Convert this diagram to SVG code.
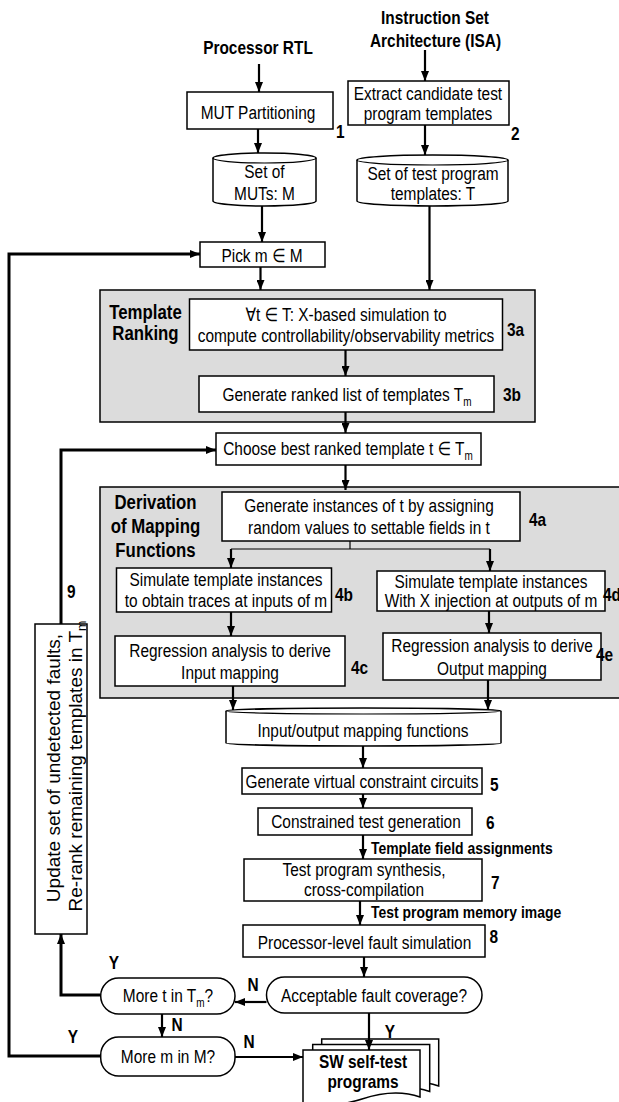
<svg xmlns="http://www.w3.org/2000/svg" width="619" height="1102" viewBox="0 0 619 1102">
<style>
text { font-family: 'Liberation Sans', Arial, 'DejaVu Sans', sans-serif; fill: #000; }
.t { font-size: 18.6px; }
.b { font-size: 18.8px; font-weight: bold; }
.big { font-size: 20.5px; font-weight: bold; }
.sm { font-size: 16.8px; font-weight: bold; }
.rot { font-size: 19px; }
.m { text-anchor: middle; }
.box { fill: #fff; stroke: #000; stroke-width: 1.5; }
.grp { fill: #dcdcdc; stroke: #000; stroke-width: 1.5; }
.c { fill: none; stroke: #000; stroke-width: 2.2; }
.thick { stroke-width: 3; }
.thin { fill: none; stroke: #000; stroke-width: 1.2; }
</style>
<defs>
<marker id="ah" markerWidth="10" markerHeight="8" refX="10" refY="4" orient="auto" markerUnits="userSpaceOnUse"><path d="M0,0 L10,4 L0,8 Z" fill="#000"/></marker>
</defs>

<g id="inputs">
<text class="b m" transform="scale(0.82,1)" x="314.63" y="54">Processor RTL</text>
<text class="b m" transform="scale(0.82,1)" x="530.49" y="24">Instruction Set</text>
<text class="b m" transform="scale(0.82,1)" x="531.1" y="47">Architecture (ISA)</text>
</g>

<g id="node1">
<rect class="box" x="187" y="92" width="146" height="37"/>
<text class="t m" transform="scale(0.83,1)" x="310.84" y="119">MUT Partitioning</text>
<text class="b" transform="scale(0.82,1)" x="409.76" y="138">1</text>
</g>

<g id="node2">
<rect class="box" x="348" y="81" width="161" height="44"/>
<text class="t m" transform="scale(0.83,1)" x="515.66" y="100">Extract candidate test</text>
<text class="t m" transform="scale(0.83,1)" x="515.66" y="120">program templates</text>
<text class="b" transform="scale(0.82,1)" x="623.17" y="140">2</text>
</g>

<g id="setM">
<path class="box" d="M213,158 A51.5,5 0 0 1 316,158 V201 A51.5,5 0 0 1 213,201 Z"/>
<path class="thin" d="M213,158 A51.5,5 0 0 0 316,158"/>
<text class="t m" transform="scale(0.83,1)" x="318.67" y="178">Set of</text>
<text class="t m" transform="scale(0.83,1)" x="318.67" y="200">MUTs: M</text>
</g>

<g id="setT">
<path class="box" d="M357,160 A75.5,5 0 0 1 508,160 V201 A75.5,5 0 0 1 357,201 Z"/>
<path class="thin" d="M357,160 A75.5,5 0 0 0 508,160"/>
<text class="t m" transform="scale(0.83,1)" x="521.69" y="180">Set of test program</text>
<text class="t m" transform="scale(0.83,1)" x="521.69" y="200">templates: T</text>
</g>

<g id="pick">
<rect class="box" x="200" y="242" width="125" height="25"/>
<text class="t m" transform="scale(0.83,1)" x="315.66" y="262">Pick m ∈ M</text>
</g>

<g id="templateRanking">
<rect class="grp" x="100" y="290" width="435" height="132"/>
<text class="big m" transform="scale(0.82,1)" x="177.44" y="319">Template</text>
<text class="big m" transform="scale(0.82,1)" x="177.44" y="340">Ranking</text>
</g>

<g id="node3a">
<rect class="box" x="189.5" y="299" width="313" height="51"/>
<text class="t m" transform="scale(0.83,1)" x="416.87" y="321.5">∀t ∈ T: X-based simulation to</text>
<text class="t m" transform="scale(0.83,1)" x="416.87" y="342.5">compute controllability/observability metrics</text>
<text class="b" transform="scale(0.82,1)" x="618.29" y="336.5">3a</text>
</g>

<g id="node3b">
<rect class="box" x="199" y="376" width="295" height="36"/>
<text class="t m" transform="scale(0.83,1)" x="418.07" y="401">Generate ranked list of templates T<tspan font-size="12" dy="5">m</tspan></text>
<text class="b" transform="scale(0.82,1)" x="613.41" y="401.5">3b</text>
</g>

<g id="choose">
<rect class="box" x="216" y="433" width="265" height="32"/>
<text class="t m" transform="scale(0.83,1)" x="419.28" y="455.5">Choose best ranked template t ∈ T<tspan font-size="12" dy="5">m</tspan></text>
</g>

<g id="derivation">
<rect class="grp" x="100" y="487" width="525" height="211"/>
<text class="big m" transform="scale(0.82,1)" x="189.63" y="509.5">Derivation</text>
<text class="big m" transform="scale(0.82,1)" x="189.63" y="533.5">of Mapping</text>
<text class="big m" transform="scale(0.82,1)" x="189.63" y="557.5">Functions</text>
</g>

<g id="node4a">
<rect class="box" x="222" y="492" width="298" height="49"/>
<text class="t m" transform="scale(0.83,1)" x="444.58" y="512.5">Generate instances of t by assigning</text>
<text class="t m" transform="scale(0.83,1)" x="444.58" y="534">random values to settable fields in t</text>
<text class="b" transform="scale(0.82,1)" x="645.12" y="526">4a</text>
</g>

<g id="node4b">
<rect class="box" x="116.5" y="568" width="215" height="44"/>
<text class="t m" transform="scale(0.83,1)" x="272.29" y="586.5">Simulate template instances</text>
<text class="t m" transform="scale(0.83,1)" x="272.29" y="607">to obtain traces at inputs of m</text>
<text class="b" transform="scale(0.82,1)" x="408.54" y="601">4b</text>
</g>

<g id="node4d">
<rect class="box" x="377" y="571" width="228" height="40"/>
<text class="t m" transform="scale(0.83,1)" x="591.57" y="588">Simulate template instances</text>
<text class="t m" transform="scale(0.83,1)" x="591.57" y="607.5">With X injection at outputs of m</text>
<text class="b" transform="scale(0.82,1)" x="735.37" y="601">4d</text>
</g>

<g id="node4c">
<rect class="box" x="115" y="636" width="230" height="50"/>
<text class="t m" transform="scale(0.83,1)" x="277.11" y="657.5">Regression analysis to derive</text>
<text class="t m" transform="scale(0.83,1)" x="277.11" y="679.5">Input mapping</text>
<text class="b" transform="scale(0.82,1)" x="428.05" y="674">4c</text>
</g>

<g id="node4e">
<rect class="box" x="383" y="633" width="218" height="47"/>
<text class="t m" transform="scale(0.83,1)" x="592.77" y="652.5">Regression analysis to derive</text>
<text class="t m" transform="scale(0.83,1)" x="592.77" y="675">Output mapping</text>
<text class="b" transform="scale(0.82,1)" x="726.83" y="661">4e</text>
</g>

<g id="mapping">
<path class="box" d="M226,711 A137.5,3 0 0 1 501,711 V743 A137.5,3 0 0 1 226,743 Z"/>
<path class="thin" d="M226,711 A137.5,3 0 0 0 501,711"/>
<text class="t m" transform="scale(0.83,1)" x="437.35" y="737">Input/output mapping functions</text>
</g>

<g id="node5">
<rect class="box" x="242" y="768" width="240" height="26"/>
<text class="t m" transform="scale(0.83,1)" x="436.14" y="788">Generate virtual constraint circuits</text>
<text class="b" transform="scale(0.82,1)" x="597.56" y="791">5</text>
</g>

<g id="node6">
<rect class="box" x="258" y="808" width="214" height="27"/>
<text class="t m" transform="scale(0.83,1)" x="440.96" y="828.5">Constrained test generation</text>
<text class="b" transform="scale(0.82,1)" x="592.68" y="829">6</text>
</g>

<g id="node7">
<rect class="box" x="244" y="859" width="238" height="42"/>
<text class="t m" transform="scale(0.83,1)" x="438.55" y="876">Test program synthesis,</text>
<text class="t m" transform="scale(0.83,1)" x="438.55" y="896.5">cross-compilation</text>
<text class="b" transform="scale(0.82,1)" x="598.78" y="889">7</text>
</g>

<g id="node8">
<rect class="box" x="243" y="925" width="242" height="32"/>
<text class="t m" transform="scale(0.83,1)" x="439.16" y="949">Processor-level fault simulation</text>
<text class="b" transform="scale(0.82,1)" x="596.95" y="943">8</text>
</g>

<g id="acceptable">
<rect class="box" x="266.5" y="977" width="215.5" height="36" rx="18" ry="18"/>
<text class="t m" transform="scale(0.83,1)" x="450.6" y="1002">Acceptable fault coverage?</text>
</g>

<g id="moreT">
<rect class="box" x="100.7" y="978" width="134.3" height="36" rx="18" ry="18"/>
<text class="t m" transform="scale(0.83,1)" x="202.41" y="1002">More t in T<tspan font-size="12" dy="5">m</tspan><tspan dy="-5">?</tspan></text>
</g>

<g id="moreM">
<rect class="box" x="100.7" y="1037" width="134.3" height="39" rx="18" ry="18"/>
<text class="t m" transform="scale(0.83,1)" x="202.41" y="1063">More m in M?</text>
</g>

<g id="node9">
<rect class="box" x="35" y="624" width="52" height="310"/>
<text class="rot m" transform="translate(60,768) rotate(-90)" x="0" y="0">Update set of undetected faults,</text>
<text class="rot m" transform="translate(82,766) rotate(-90)" x="0" y="0">Re-rank remaining templates in T<tspan font-size="12.5" dy="4">m</tspan></text>
<text class="b" transform="scale(0.82,1)" x="81.71" y="598">9</text>
</g>

<g id="programs">
<path class="box" transform="translate(18.7,-11)" d="M303,1050 H420 V1097 C400,1090 380,1093 362,1099 C343,1105 322,1107 303,1103 Z"/>
<path class="box" transform="translate(9.7,-5.5)" d="M303,1050 H420 V1097 C400,1090 380,1093 362,1099 C343,1105 322,1107 303,1103 Z"/>
<path class="box" d="M303,1050 H420 V1097 C400,1090 380,1093 362,1099 C343,1105 322,1107 303,1103 Z"/>
<text class="b m" transform="scale(0.82,1)" x="442.68" y="1068">SW self-test</text>
<text class="b m" transform="scale(0.82,1)" x="442.68" y="1088">programs</text>
</g>

<g id="connectors">
<path class="c" d="M259,64 V92" marker-end="url(#ah)"/>
<path class="c" d="M425,50 V81" marker-end="url(#ah)"/>
<path class="c" d="M258,129 V153" marker-end="url(#ah)"/>
<path class="c" d="M425,125 V155" marker-end="url(#ah)"/>
<path class="c" d="M262,206 V242" marker-end="url(#ah)"/>
<path class="c" d="M260.5,267 V290" marker-end="url(#ah)"/>
<path class="c" d="M429.5,206 V290" marker-end="url(#ah)"/>
<path class="c" d="M345.5,350 V376" marker-end="url(#ah)"/>
<path class="c" d="M345.5,412 V433" marker-end="url(#ah)"/>
<path class="c" d="M345.5,465 V490" marker-end="url(#ah)"/>
<path class="thin" d="M350,541 V549 M231,549 H490"/>
<path class="c" d="M231,549 V568" marker-end="url(#ah)"/>
<path class="c" d="M490,549 V571" marker-end="url(#ah)"/>
<path class="c" d="M231,612 V636" marker-end="url(#ah)"/>
<path class="c" d="M489,611 V633" marker-end="url(#ah)"/>
<path class="c" d="M233,686 V710" marker-end="url(#ah)"/>
<path class="c" d="M488,680 V710" marker-end="url(#ah)"/>
<path class="c" d="M363,746 V768" marker-end="url(#ah)"/>
<path class="c" d="M363,794 V808" marker-end="url(#ah)"/>
<path class="c" d="M363,835 V859" marker-end="url(#ah)"/>
<path class="c" d="M360,901 V925" marker-end="url(#ah)"/>
<path class="c" d="M364,957 V977" marker-end="url(#ah)"/>
<path class="c" d="M266.5,1002 H235" marker-end="url(#ah)"/>
<path class="c thick" d="M100.7,995 H61 V934" marker-end="url(#ah)"/>
<path class="c thick" d="M61,624 V450 H216" marker-end="url(#ah)"/>
<path class="c" d="M162,1014 V1037" marker-end="url(#ah)"/>
<path class="c thick" d="M100.7,1056 H9 V254 H200" marker-end="url(#ah)"/>
<path class="c" d="M235,1057 H303" marker-end="url(#ah)"/>
<path class="c" d="M369,1013 V1050" marker-end="url(#ah)"/>
<text class="sm" transform="scale(0.83,1)" x="446.99" y="854">Template field assignments</text>
<text class="sm" transform="scale(0.83,1)" x="446.99" y="918">Test program memory image</text>
<text class="b m" transform="scale(0.82,1)" x="308.54" y="991">N</text>
<text class="b m" transform="scale(0.82,1)" x="139.02" y="969">Y</text>
<text class="b m" transform="scale(0.82,1)" x="215.85" y="1031">N</text>
<text class="b m" transform="scale(0.82,1)" x="89.02" y="1043">Y</text>
<text class="b m" transform="scale(0.82,1)" x="303.66" y="1048">N</text>
<text class="b m" transform="scale(0.82,1)" x="475.61" y="1038">Y</text>
</g>
</svg>
